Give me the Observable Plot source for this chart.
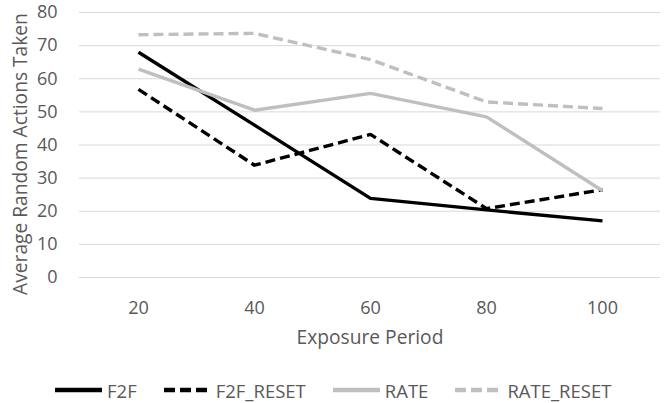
<!DOCTYPE html>
<html>
<head>
<meta charset="utf-8">
<script src="https://cdn.jsdelivr.net/npm/d3@7"></script>
<script src="https://cdn.jsdelivr.net/npm/@observablehq/plot@0.6"></script>
<style>
  html, body { margin: 0; padding: 0; background: #fff; }
  body { width: 671px; height: 403px; overflow: hidden; font-family: "Open Sans", sans-serif; }
  #legend { display: flex; justify-content: flex-start; align-items: center; gap: 27px; font-size: 18.5px; color: #595959; height: 40px; padding-left: 55px; margin-top: 8px; }
  #legend .item { display: flex; align-items: center; gap: 5px; }
</style>
</head>
<body>
<div id="chart"></div>
<div id="legend"></div>
<script>
const periods = [20, 40, 60, 80, 100];
const f2f = [68, 46, 23.9, 20.4, 17.1];
const f2fReset = [56.8, 33.9, 43.2, 20.8, 26.5];
const rate = [62.9, 50.5, 55.6, 48.5, 26.2];
const rateReset = [73.3, 73.7, 65.8, 53, 51];
const yTicks = [0, 10, 20, 30, 40, 50, 60, 70, 80];

const seriesNames = ["F2F", "F2F_RESET", "RATE", "RATE_RESET"];
const seriesValues = [f2f, f2fReset, rate, rateReset];
const seriesColors = ["#000000", "#000000", "#bfbfbf", "#bfbfbf"];
const seriesDash = [null, "10,5", null, "10,5"];

const rows = seriesNames.flatMap((s, i) => periods.map((p, j) => ({series: s, period: p, value: seriesValues[i][j]})));

const lineMarks = seriesNames.map((s, i) => Plot.line(rows.filter(d => d.series === s), {
  x: "period", y: "value", stroke: seriesColors[i], strokeWidth: 3.4,
  strokeDasharray: seriesDash[i] || undefined, strokeLinejoin: "round", strokeLinecap: "butt"
}));

const chart = Plot.plot({
  width: 671,
  height: 362,
  marginTop: 12,
  marginLeft: 79,
  marginRight: 11,
  marginBottom: 85,
  style: {fontFamily: "Open Sans, sans-serif", fontSize: "18px", color: "#595959", background: "#fff"},
  x: {type: "point", domain: periods, padding: 0.5},
  y: {domain: [0, 80]},
  marks: [
    Plot.gridY(yTicks, {stroke: "#d9d9d9", strokeOpacity: 1, strokeWidth: 1}),
    Plot.axisY(yTicks, {tickSize: 0, tickPadding: 22, fontSize: 18, fill: "#595959",
      label: "Average Random Actions Taken", labelAnchor: "center", labelArrow: "none", labelOffset: 66}),
    Plot.axisX(periods, {tickSize: 0, tickPadding: 24, fontSize: 18, fill: "#595959",
      label: "Exposure Period", labelAnchor: "center", labelArrow: "none", labelOffset: 66}),
    ...lineMarks
  ]
});
d3.select(chart).selectAll('g[aria-label="y-axis label"], g[aria-label="x-axis label"]')
  .attr("font-size", 19.2)
  .selectAll("text").attr("font-size", 19.2);
d3.select(chart).selectAll('g[aria-label="y-axis label"] text').attr("dx", -9);
document.getElementById("chart").appendChild(chart);

const legend = document.getElementById("legend");
seriesNames.forEach((s, i) => {
  const item = document.createElement("div");
  item.className = "item";
  item.innerHTML = `<svg width="47" height="6"><line x1="0" y1="3" x2="47" y2="3" stroke="${seriesColors[i]}" stroke-width="4.5" ${seriesDash[i] ? `stroke-dasharray="11,5"` : ""}/></svg><span>${s}</span>`;
  legend.appendChild(item);
});
</script>
</body>
</html>
